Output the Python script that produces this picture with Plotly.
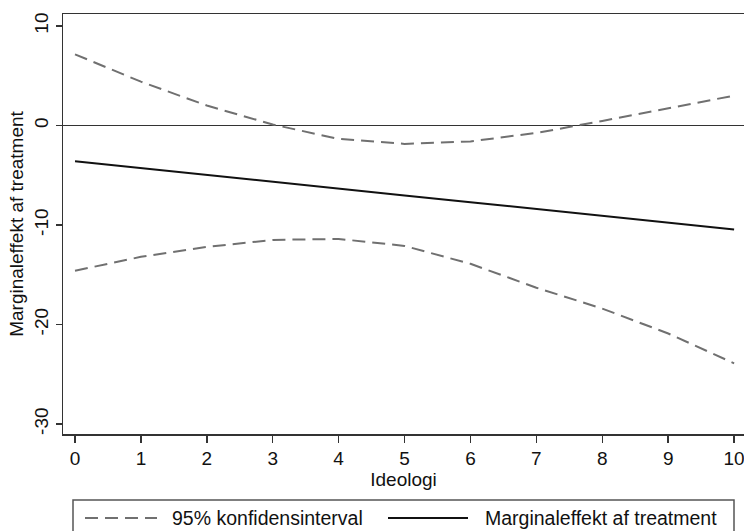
import plotly.graph_objects as go

# Data
ideologi = [0, 1, 2, 3, 4, 5, 6, 7, 8, 9, 10]
marginaleffekt = [-3.6, -4.3, -4.97, -5.66, -6.34, -7.03, -7.71, -8.4, -9.08, -9.77, -10.45]
ci_upper = [7.15, 4.4, 2.0, 0.1, -1.35, -1.85, -1.6, -0.75, 0.45, 1.75, 3.0]
ci_lower = [-14.6, -13.2, -12.2, -11.5, -11.4, -12.1, -13.9, -16.3, -18.4, -20.9, -23.9]

x_ticks = [0, 1, 2, 3, 4, 5, 6, 7, 8, 9, 10]
y_ticks = [-30, -20, -10, 0, 10]

legend_ci = "95% konfidensinterval"
legend_me = "Marginaleffekt af treatment"
x_title = "Ideologi"
y_title = "Marginaleffekt af treatment"

FONT = "Liberation Sans, Arial, sans-serif"
W, H = 744, 531
# plot area in page pixels: left 63, top 14, right 744, bottom 434
ML, MR, MT, MB = 63, 0, 14, 531 - 434
PW, PH = W - ML - MR, H - MT - MB


def px(xp):
    return (xp - ML) / PW


def py(yp):
    return (H - MB - yp) / PH


dash_style = dict(color="#707070", width=2, dash="13px,7px")
solid_style = dict(color="#111111", width=2)

fig = go.Figure()
fig.add_trace(go.Scatter(x=ideologi, y=ci_upper, mode="lines", line=dash_style,
                         name=legend_ci, showlegend=False, hoverinfo="skip"))
fig.add_trace(go.Scatter(x=ideologi, y=ci_lower, mode="lines", line=dash_style,
                         name=legend_ci, showlegend=False, hoverinfo="skip"))
fig.add_trace(go.Scatter(x=ideologi, y=marginaleffekt, mode="lines", line=solid_style,
                         name=legend_me, showlegend=False, hoverinfo="skip"))

axis_col = "#333333"
fig.update_xaxes(
    range=[-0.182, 10.15], tickvals=x_ticks, ticktext=[str(v) for v in x_ticks],
    showgrid=False, zeroline=False, showline=True, linecolor=axis_col, linewidth=1.5,
    mirror=True, ticks="outside", ticklen=7, tickwidth=1.5, tickcolor=axis_col,
    ticklabeloverflow="allow",
    tickfont=dict(family=FONT, size=19, color="#111111"),
    title=dict(text=x_title, font=dict(family=FONT, size=19, color="#111111"), standoff=0),
)
fig.update_yaxes(
    range=[-31.0, 11.2], tickvals=y_ticks, ticktext=[str(v) for v in y_ticks],
    showgrid=False, zeroline=True, zerolinecolor="#333333", zerolinewidth=1.5,
    showline=True, linecolor=axis_col, linewidth=1.5, mirror=False,
    ticks="outside", ticklen=6, tickwidth=1.5, tickcolor=axis_col, tickangle=-90,
    ticklabeloverflow="allow",
    tickfont=dict(family=FONT, size=19, color="#111111"),
    title=dict(text=y_title, font=dict(family=FONT, size=19, color="#111111"), standoff=2),
)

# Legend box drawn manually to match the reference layout
shapes = [
    dict(type="rect", xref="paper", yref="paper", x0=px(73), x1=px(734), y0=py(545), y1=py(500),
         line=dict(color="#555555", width=1.5), fillcolor="rgba(0,0,0,0)"),
    dict(type="line", xref="paper", yref="paper", x0=px(85), x1=px(157), y0=py(518), y1=py(518),
         line=dash_style),
    dict(type="line", xref="paper", yref="paper", x0=px(388), x1=px(468), y0=py(518), y1=py(518),
         line=solid_style),
]
annotations = [
    dict(text=legend_ci, xref="paper", yref="paper", x=px(170), y=py(518), xanchor="left",
         yanchor="middle", showarrow=False, font=dict(family=FONT, size=19.5, color="#111111")),
    dict(text=legend_me, xref="paper", yref="paper", x=px(483), y=py(518), xanchor="left",
         yanchor="middle", showarrow=False, font=dict(family=FONT, size=19.5, color="#111111")),
]

fig.update_layout(
    width=W, height=H, margin=dict(l=ML, r=MR, t=MT, b=MB, autoexpand=False),
    paper_bgcolor="white", plot_bgcolor="white", showlegend=False,
    shapes=shapes, annotations=annotations, hovermode=False,
    font=dict(family=FONT, size=19, color="#111111"),
)

fig.write_html(
    "out.html",
    config={"displayModeBar": False, "staticPlot": True},
    post_script=(
        "document.body.style.margin='0';"
        "document.documentElement.style.overflow='hidden';"
        "document.body.style.overflow='hidden';"
    ),
)
